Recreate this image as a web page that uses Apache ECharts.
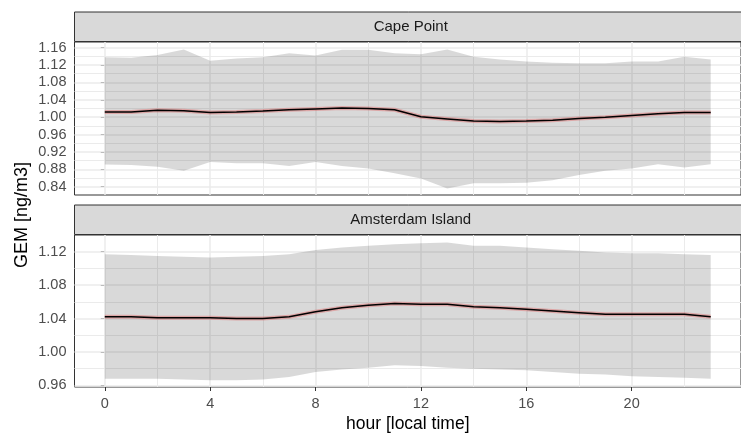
<!DOCTYPE html>
<html>
<head>
<meta charset="utf-8">
<script src="https://cdn.jsdelivr.net/npm/echarts@6/dist/echarts.min.js"></script>
<style>
  html, body { margin: 0; padding: 0; background: #fff; }
  #main { width: 741px; height: 434px; }
</style>
</head>
<body>
<div id="main"></div>
<script>
const hours = [0, 1, 2, 3, 4, 5, 6, 7, 8, 9, 10, 11, 12, 13, 14, 15, 16, 17, 18, 19, 20, 21, 22, 23];

// Cape Point
const cpMean = [1.012, 1.012, 1.016, 1.015, 1.011, 1.012, 1.014, 1.017, 1.019, 1.021, 1.020, 1.017,
                1.001, 0.996, 0.991, 0.990, 0.991, 0.993, 0.997, 1.000, 1.004, 1.008, 1.011, 1.011];
const cpUpper = [1.138, 1.137, 1.143, 1.156, 1.130, 1.135, 1.138, 1.147, 1.142, 1.155, 1.155, 1.147,
                 1.145, 1.156, 1.139, 1.133, 1.128, 1.125, 1.124, 1.124, 1.128, 1.128, 1.139, 1.133];
const cpLower = [0.891, 0.890, 0.886, 0.877, 0.897, 0.894, 0.894, 0.888, 0.897, 0.888, 0.882, 0.871,
                 0.859, 0.836, 0.848, 0.848, 0.849, 0.855, 0.867, 0.877, 0.882, 0.892, 0.884, 0.892];

// Amsterdam Island
const amMean = [1.042, 1.042, 1.041, 1.041, 1.041, 1.040, 1.040, 1.042, 1.048, 1.053, 1.056, 1.058,
                1.057, 1.057, 1.054, 1.053, 1.051, 1.049, 1.047, 1.045, 1.045, 1.045, 1.045, 1.042];
const amUpper = [1.117, 1.116, 1.115, 1.114, 1.113, 1.114, 1.115, 1.117, 1.122, 1.125, 1.127, 1.129,
                 1.130, 1.131, 1.127, 1.127, 1.125, 1.123, 1.121, 1.119, 1.118, 1.118, 1.117, 1.116];
const amLower = [0.968, 0.968, 0.968, 0.967, 0.966, 0.966, 0.967, 0.970, 0.976, 0.979, 0.981, 0.984,
                 0.983, 0.981, 0.980, 0.979, 0.978, 0.976, 0.974, 0.973, 0.971, 0.970, 0.969, 0.968];

const xTicks = [0, 4, 8, 12, 16, 20];
const xMinor = [2, 6, 10, 14, 18, 22];
const cpTicks = [0.84, 0.88, 0.92, 0.96, 1.00, 1.04, 1.08, 1.12, 1.16];
const cpMinor = [0.86, 0.90, 0.94, 0.98, 1.02, 1.06, 1.10, 1.14];
const amTicks = [0.96, 1.00, 1.04, 1.08, 1.12];
const amMinor = [0.98, 1.02, 1.06, 1.10];

const panels = ['Cape Point', 'Amsterdam Island'];

const FONT = '"Liberation Sans", Arial, sans-serif';
const gridLeft = 74.5, gridWidth = 672.5;
const grids = [
  { left: gridLeft, top: 42, width: gridWidth, height: 153 },
  { left: gridLeft, top: 235, width: gridWidth, height: 152 }
];

const pairs = (ys) => hours.map((h, i) => [h, ys[i]]);

function gridLines(idx, xs, ys, minorXs, minorYs) {
  const major = { color: '#ebebeb', width: 1.5, type: 'solid' };
  const minor = { color: '#ebebeb', width: 1, type: 'solid' };
  const data = [];
  minorXs.forEach(v => data.push({ xAxis: v, lineStyle: minor }));
  minorYs.forEach(v => data.push({ yAxis: v, lineStyle: minor }));
  xs.forEach(v => data.push({ xAxis: v, lineStyle: major }));
  ys.forEach(v => data.push({ yAxis: v, lineStyle: major }));
  return {
    type: 'line', xAxisIndex: idx, yAxisIndex: idx, data: [], z: 1,
    markLine: { z: 1, silent: true, symbol: 'none', label: { show: false }, animation: false, data: data }
  };
}

// ribbon drawn as one polygon through the axis scales
function ribbon(idx, up, lo) {
  return {
    type: 'custom', xAxisIndex: idx, yAxisIndex: idx, z: 6, silent: true,
    data: hours.map((h, i) => [h, lo[i], up[i]]),
    encode: { x: 0, y: [1, 2] },
    renderItem: (params, api) => {
      if (params.dataIndex !== 0) return null;
      const top = hours.map((h, i) => api.coord([h, up[i]]));
      const bottom = hours.map((h, i) => api.coord([h, lo[i]])).reverse();
      return {
        type: 'polygon',
        shape: { points: top.concat(bottom) },
        style: { fill: 'rgba(0,0,0,0.15)' }
      };
    }
  };
}

function meanSeries(idx, mean) {
  return [
    {
      type: 'line', xAxisIndex: idx, yAxisIndex: idx, z: 7,
      data: pairs(mean), symbol: 'none',
      lineStyle: { color: 'rgba(225,90,90,0.4)', width: 4 }
    },
    {
      type: 'line', xAxisIndex: idx, yAxisIndex: idx, z: 8,
      data: pairs(mean), symbol: 'none',
      lineStyle: { color: '#000', width: 1.5 }
    }
  ];
}

function xAxis(idx, showLabels) {
  return {
    type: 'value', gridIndex: idx, min: -1.15, max: 24.15,
    axisLine: { show: false },
    splitLine: { show: false },
    axisTick: { show: showLabels, customValues: xTicks, length: 4, lineStyle: { color: '#333', width: 1 } },
    axisLabel: {
      show: showLabels, customValues: xTicks, color: '#4d4d4d', fontSize: 14.5,
      fontFamily: FONT, margin: 9
    },
    name: showLabels ? 'hour [local time]' : '',
    nameLocation: 'middle', nameGap: 28,
    nameTextStyle: { color: '#000', fontSize: 17.5, fontFamily: FONT }
  };
}

function yAxis(idx, min, max, ticks) {
  return {
    type: 'value', gridIndex: idx, min: min, max: max,
    axisLine: { show: false },
    splitLine: { show: false },
    axisTick: { show: true, customValues: ticks, length: 4, lineStyle: { color: '#333', width: 1 } },
    axisLabel: {
      customValues: ticks, color: '#4d4d4d', fontSize: 14.5, fontFamily: FONT, margin: 8,
      formatter: v => v.toFixed(2)
    }
  };
}

const chart = echarts.init(document.getElementById('main'));

const stripH = 29.5;
const decorations = [];
grids.forEach((g, i) => {
  decorations.push({
    type: 'rect', z: 10,
    shape: { x: g.left, y: g.top - stripH - 0.5, width: g.width, height: stripH },
    style: { fill: '#d9d9d9', stroke: '#333', lineWidth: 1 }
  });
  decorations.push({
    type: 'text', z: 11,
    x: g.left + g.width / 2, y: g.top - stripH / 2 - 0.5,
    style: {
      text: panels[i], fill: '#1a1a1a', font: '15px ' + FONT,
      textAlign: 'center', textVerticalAlign: 'middle'
    }
  });
});
decorations.push({
  type: 'text', z: 11, x: 22, y: 215, rotation: Math.PI / 2,
  style: {
    text: 'GEM [ng/m3]', fill: '#000', font: '18px ' + FONT,
    textAlign: 'center', textVerticalAlign: 'middle'
  }
});

const option = {
  animation: false,
  backgroundColor: '#fff',
  grid: grids.map(g => Object.assign({ show: true, borderColor: '#333', borderWidth: 1, backgroundColor: 'transparent' }, g)),
  xAxis: [xAxis(0, false), xAxis(1, true)],
  yAxis: [yAxis(0, 0.821, 1.173, cpTicks), yAxis(1, 0.958, 1.14, amTicks)],
  graphic: decorations,
  series: [
    gridLines(0, xTicks, cpTicks, xMinor, cpMinor),
    gridLines(1, xTicks, amTicks, xMinor, amMinor),
    ribbon(0, cpUpper, cpLower),
    ribbon(1, amUpper, amLower),
    ...meanSeries(0, cpMean),
    ...meanSeries(1, amMean)
  ]
};

chart.setOption(option);
</script>
</body>
</html>
